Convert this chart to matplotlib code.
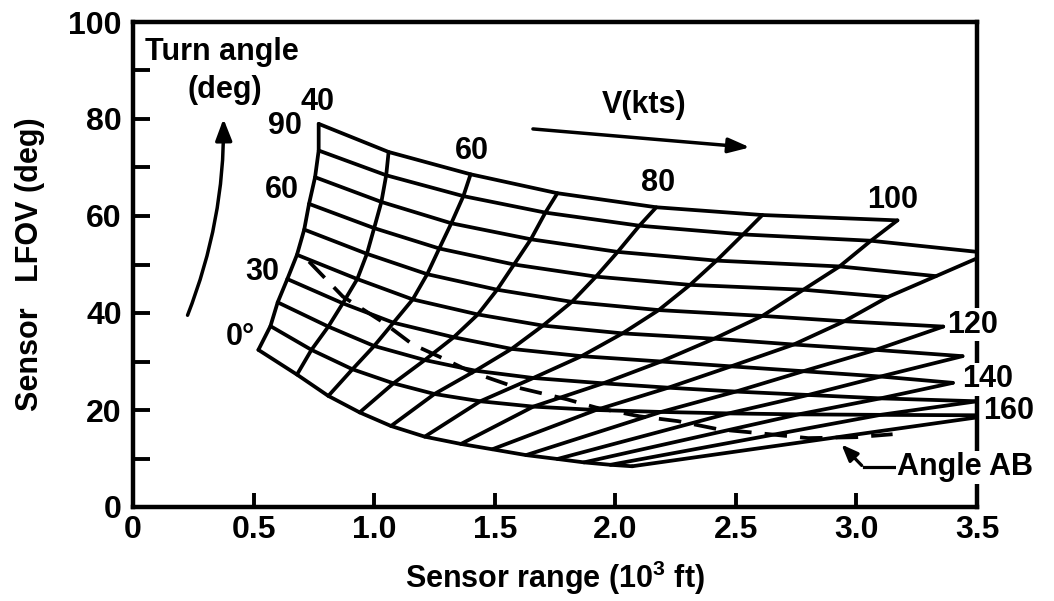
import numpy as np
import matplotlib as mpl
mpl.use('Agg')
import matplotlib.pyplot as plt
from matplotlib.patches import FancyArrowPatch

plt.rcParams['font.family'] = ['Liberation Sans', 'DejaVu Sans']
plt.rcParams['font.weight'] = 'bold'
plt.rcParams['mathtext.fontset'] = 'custom'
plt.rcParams['mathtext.rm'] = 'Liberation Sans:bold'
plt.rcParams['mathtext.bf'] = 'Liberation Sans:bold'
plt.rcParams['mathtext.it'] = 'Liberation Sans:bold'
plt.rcParams['mathtext.default'] = 'bf'

nan = np.nan

speeds = [40, 50, 60, 70, 80, 90, 100, 110, 120, 130, 140, 150, 160]   # kts
turn_angles = [0, 10, 20, 30, 40, 50, 60, 70, 80, 90]                  # deg

# sensor range (10^3 ft) at each carpet node: one row per turn angle, one column per speed
rng = np.array([
    [0.52, 0.68, 0.81, 0.94, 1.07, 1.21, 1.36, 1.49, 1.63, 1.76, 1.87, 1.98, 2.07],
    [0.57, 0.74, 0.91, 1.08, 1.25, 1.44, 1.66, 1.92, 2.19, 2.47, 2.76, 3.10, 3.56],
    [0.60, 0.81, 1.00, 1.21, 1.42, 1.66, 1.95, 2.22, 2.50, 2.80, 3.10, 3.50, nan],
    [0.64, 0.87, 1.08, 1.33, 1.57, 1.86, 2.19, 2.48, 2.78, 3.10, 3.40, nan, nan],
    [0.68, 0.93, 1.16, 1.43, 1.70, 2.03, 2.41, 2.74, 3.08, 3.44, nan, nan, nan],
    [0.71, 0.97, 1.22, 1.51, 1.82, 2.18, 2.61, 2.95, 3.36, nan, nan, nan, nan],
    [0.73, 1.00, 1.27, 1.58, 1.92, 2.31, 2.78, 3.13, nan, nan, nan, nan, nan],
    [0.755, 1.03, 1.32, 1.65, 2.01, 2.42, 2.93, 3.33, nan, nan, nan, nan, nan],
    [0.77, 1.05, 1.37, 1.71, 2.10, 2.53, 3.06, 3.55, nan, nan, nan, nan, nan],
    [0.77, 1.06, 1.40, 1.76, 2.17, 2.61, 3.17, nan, nan, nan, nan, nan, nan],
])

# sensor LFOV (deg) at the same nodes
lfov = np.array([
    [32.4, 27.3, 22.9, 19.5, 16.7, 14.5, 13.0, 11.9, 10.7, 9.9, 9.2, 8.7, 8.4],
    [37.3, 32.4, 28.4, 25.5, 23.3, 21.8, 20.7, 20.0, 19.6, 19.3, 19.1, 19.0, 18.9],
    [42.2, 37.2, 33.2, 30.3, 28.1, 26.6, 25.5, 24.6, 23.8, 23.1, 22.4, 21.8, nan],
    [47.0, 42.0, 38.0, 35.0, 32.6, 31.1, 30.0, 29.0, 28.0, 26.9, 25.6, nan, nan],
    [52.0, 47.0, 42.8, 39.7, 37.4, 35.8, 34.7, 33.5, 32.4, 31.1, nan, nan, nan],
    [57.2, 52.2, 48.0, 44.8, 42.3, 40.6, 39.4, 38.3, 37.2, nan, nan, nan, nan],
    [62.5, 57.5, 53.3, 50.0, 47.5, 45.8, 44.8, 43.3, nan, nan, nan, nan, nan],
    [68.0, 62.9, 58.5, 55.2, 52.6, 50.8, 49.6, 47.6, nan, nan, nan, nan, nan],
    [73.5, 68.4, 64.1, 60.7, 58.0, 56.2, 54.9, 52.35, nan, nan, nan, nan, nan],
    [79.0, 73.2, 68.6, 64.7, 61.8, 60.2, 59.1, nan, nan, nan, nan, nan, nan],
])

# dashed "Angle AB" curve
ab_rng = [0.73, 0.87, 1.04, 1.16, 1.27, 1.40, 1.58, 1.80, 1.92, 2.10, 2.26, 2.43, 2.56, 2.80, 3.00, 3.15]
ab_lfov = [50.6, 43.4, 38.0, 33.5, 31.0, 27.9, 24.8, 22.2, 20.5, 18.7, 17.7, 16.0, 15.4, 14.2, 14.4, 15.0]

x_ticks = [0, 0.5, 1.0, 1.5, 2.0, 2.5, 3.0, 3.5]
x_ticklabels = ['0', '0.5', '1.0', '1.5', '2.0', '2.5', '3.0', '3.5']
y_ticks = list(range(0, 101, 10))
y_ticklabels = [str(v) if v % 20 == 0 else '' for v in y_ticks]

LW = 2.7
FS = 22

fig = plt.figure(figsize=(10.54, 6.01), dpi=100)
ax = fig.add_axes([133 / 1054, 1 - 507 / 601, 844 / 1054, 485 / 601])

# turn-angle lines and speed lines of the carpet
for i in range(len(turn_angles)):
    ax.plot(rng[i], lfov[i], color='black', lw=LW, solid_capstyle='round', solid_joinstyle='round')
for j in range(len(speeds)):
    ax.plot(rng[:, j], lfov[:, j], color='black', lw=LW, solid_capstyle='round', solid_joinstyle='round')

ax.plot(ab_rng, ab_lfov, color='black', lw=LW, dashes=(6, 3.5))

ax.set_xlim(0, 3.5)
ax.set_ylim(0, 100)
ax.set_xticks(x_ticks)
ax.set_xticklabels(x_ticklabels)
ax.set_yticks(y_ticks)
ax.set_yticklabels(y_ticklabels)
ax.tick_params(direction='in', length=10, width=2.8, labelsize=23, pad=6)
ax.tick_params(axis='y', length=12, pad=8)
for s in ax.spines.values():
    s.set_linewidth(3.2)

ax.set_ylabel('Sensor   LFOV (deg)', fontsize=FS, fontweight='bold', va='center')
ax.yaxis.set_label_coords(-0.122, 0.5)
ax.set_xlabel('Sensor range (10$^{3}$ ft)', fontsize=FS, fontweight='bold', va='center')
ax.xaxis.set_label_coords(0.5, -0.146)

txt = dict(fontsize=FS, fontweight='bold', ha='center', va='center', clip_on=False)
ax.text(0.37, 93.8, 'Turn angle', **txt)
ax.text(0.38, 86.0, '(deg)', **txt)
ax.text(0.767, 83.6, '40', **txt)
ax.text(0.63, 78.6, '90', **txt)
ax.text(0.618, 65.3, '60', **txt)
ax.text(0.535, 48.5, '30', **txt)
ax.text(0.444, 35.1, '0°', **txt)
ax.text(1.406, 73.5, '60', **txt)
ax.text(2.177, 66.9, '80', **txt)
ax.text(3.152, 63.2, '100', **txt)
ax.text(2.12, 82.9, 'V(kts)', **txt)

white = dict(facecolor='white', edgecolor='none', pad=1)
side = dict(fontsize=FS, fontweight='bold', ha='left', va='center', clip_on=False)
ax.text(3.376, 37.6, '120', bbox=white, **side)
ax.text(3.438, 26.3, '140', bbox=white, **side)
ax.text(3.525, 19.7, '160', **side)
ax.text(3.169, 8.2, 'Angle AB', bbox=white, **side)

# turn-angle arrow
ax.add_patch(FancyArrowPatch((0.222, 39.0), (0.375, 80.6), connectionstyle='arc3,rad=0.1',
                             arrowstyle='-|>,head_length=13,head_width=5', lw=2.5, color='black'))
# speed arrow
ax.add_patch(FancyArrowPatch((1.647, 78.0), (2.57, 74.1),
                             arrowstyle='-|>,head_length=13,head_width=4.5', lw=2.5, color='black'))
# leader for Angle AB
ax.plot([3.167, 3.03], [8.15, 8.15], color='black', lw=2.3)
ax.add_patch(FancyArrowPatch((3.03, 8.15), (2.93, 13.3),
                             arrowstyle='-|>,head_length=10,head_width=4', lw=2.3, color='black'))

fig.savefig('out.png', dpi=100)
